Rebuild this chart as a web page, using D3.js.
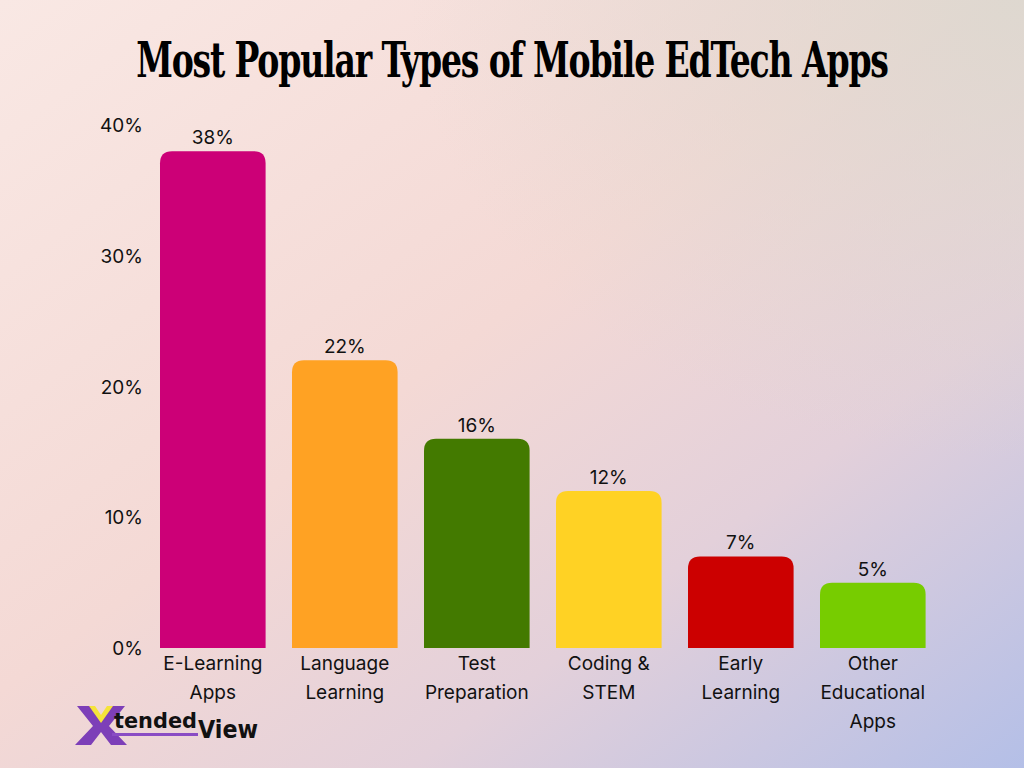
<!DOCTYPE html>
<html><head><meta charset="utf-8">
<script src="https://cdn.jsdelivr.net/npm/d3@7"></script>
<style>html,body{margin:0;padding:0;overflow:hidden;}svg{display:block;}</style>
</head><body>
<svg id="chart" width="1024" height="768"></svg>
<script>
const categories = [["E-Learning","Apps"],["Language","Learning"],["Test","Preparation"],["Coding &","STEM"],["Early","Learning"],["Other","Educational","Apps"]];
const values = [38, 22, 16, 12, 7, 5];
const barColors = ["#cc0077","#ffa223","#437a00","#ffd224","#cc0000","#77cc00"];
const yTicks = [0, 10, 20, 30, 40];
const titleText = "Most Popular Types of Mobile EdTech Apps";

const svg = d3.select("#chart");
const defs = svg.append("defs");
const g1 = defs.append("linearGradient").attr("id","bg").attr("x1","0").attr("y1","0").attr("x2","1").attr("y2","1");
[[0,"#f9e8e4"],[0.45,"#f4d9d5"],[0.7,"#e3d0da"],[1,"#b4bfe7"]].forEach(s=>g1.append("stop").attr("offset",s[0]).attr("stop-color",s[1]));
const g2 = defs.append("radialGradient").attr("id","tr").attr("cx","1").attr("cy","0").attr("r","0.6");
g2.append("stop").attr("offset",0).attr("stop-color","#dcd8cf").attr("stop-opacity",0.9);
g2.append("stop").attr("offset",1).attr("stop-color","#dcd8cf").attr("stop-opacity",0);
svg.append("rect").attr("width",1024).attr("height",768).attr("fill","url(#bg)");
svg.append("rect").attr("width",1024).attr("height",768).attr("fill","url(#tr)");

// title: horizontally scaled to target width (condensed look)
const tg = svg.append("g");
const title = tg.append("text").attr("x",0).attr("y",0).attr("text-anchor","middle")
  .attr("font-family","'DejaVu Serif Condensed','DejaVu Serif',serif").attr("font-weight","bold")
  .attr("font-size",48).attr("letter-spacing",-1.5).attr("fill","#000").text(titleText);
const natural = title.node().getBBox().width;
const sx = 752 / natural;
tg.attr("transform", `translate(512,77) scale(${sx.toFixed(4)},1)`);

const x = d3.scaleBand().domain(d3.range(values.length)).range([146.8,938.8]).paddingInner(0.2).paddingOuter(0.1);
const y = d3.scaleLinear().domain([0,40]).range([648,125]);

const font = "Inter, 'Noto Sans', sans-serif";
const yAxis = d3.axisLeft(y).tickValues(yTicks).tickFormat(d=>d+"%").tickSize(0).tickPadding(0);
const ya = svg.append("g").attr("transform","translate(143,0)").call(yAxis);
ya.select(".domain").remove();
ya.selectAll("text").attr("font-family",font).attr("font-size",19).attr("fill","#111").attr("dy","0.35em");

const r = 12;
function barPath(x0, w, yTop, yBot){
  return `M${x0},${yBot} V${yTop+r} Q${x0},${yTop} ${x0+r},${yTop} H${x0+w-r} Q${x0+w},${yTop} ${x0+w},${yTop+r} V${yBot} Z`;
}
svg.append("g").selectAll("path").data(values).join("path")
  .attr("d",(d,i)=>barPath(x(i), x.bandwidth(), y(d), y(0)))
  .attr("fill",(d,i)=>barColors[i]);

svg.append("g").selectAll("text").data(values).join("text")
  .attr("x",(d,i)=>x(i)+x.bandwidth()/2).attr("y",d=>y(d)-7)
  .attr("text-anchor","middle").attr("font-family",font).attr("font-size",19).attr("fill","#111")
  .text(d=>d+"%");

const xl = svg.append("g");
categories.forEach((lines,i)=>{
  const t = xl.append("text").attr("text-anchor","middle").attr("font-family",font).attr("font-size",19).attr("fill","#111");
  lines.forEach((ln,j)=>t.append("tspan").attr("x",x(i)+x.bandwidth()/2).attr("y",670+j*29).text(ln));
});

// logo
const logo = svg.append("g");
logo.append("path").attr("d","M77,706 L92,706 L101,720 L110,706 L125,706 L109,726 L127,745 L111,745 L101,732 L91,745 L75,745 L93,726 Z").attr("fill","#7d3fb8");
logo.append("path").attr("d","M89,706 L95,706 L101,715 L107,706 L113,706 L101,723 Z").attr("fill","#f5e33a");
logo.append("rect").attr("x",112).attr("y",733).attr("width",86).attr("height",3).attr("fill","#8a4cc4");
logo.append("text").attr("x",114).attr("y",728).attr("font-family","'DejaVu Sans'").attr("font-weight","bold").attr("font-size",22).attr("fill","#111").attr("textLength",83).attr("lengthAdjust","spacingAndGlyphs").text("tended");
logo.append("text").attr("x",198).attr("y",738).attr("font-family","'DejaVu Sans'").attr("font-weight","bold").attr("font-size",24).attr("fill","#111").attr("textLength",60).attr("lengthAdjust","spacingAndGlyphs").text("View");
</script>
</body></html>
